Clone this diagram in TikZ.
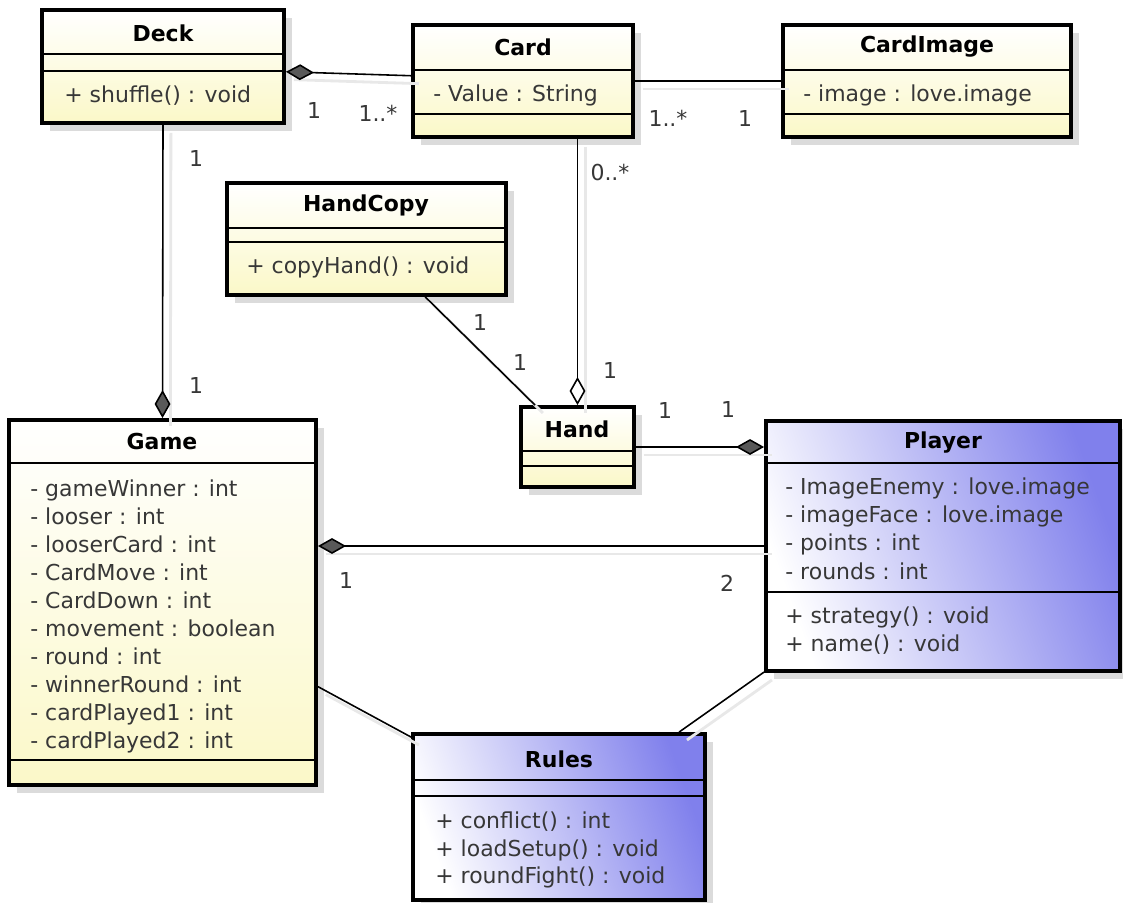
\documentclass[tikz,border=0pt]{standalone}
\usepackage{fontspec}
\setmainfont{DejaVu Sans}
\usetikzlibrary{arrows.meta,shadows,fit}

\definecolor{classyellow}{RGB}{251,248,200}
\definecolor{classblue}{RGB}{128,128,236}
\definecolor{textgray}{RGB}{55,55,55}

\tikzset{
  boxbase/.style={draw, line width=2.2pt, inner sep=0pt,
    drop shadow={shadow xshift=4.5pt, shadow yshift=-4.5pt, fill=black!14, opacity=1}},
  yclass/.style={boxbase, top color=white, bottom color=classyellow},
  bclass/.style={boxbase, left color=white, right color=classblue, shading angle=110},
  compart/.style={line width=1pt},
  title/.style={inner sep=0pt, font=\bfseries\fontsize{12.5}{15}\selectfont},
  member/.style={anchor=west, inner sep=0pt, text=textgray,
    font=\fontsize{12.5}{15}\selectfont, text height=1.5ex, text depth=.25ex},
  mult/.style={inner sep=0pt, text=textgray, font=\fontsize{12.5}{15}\selectfont},
  assoc/.style={line width=0.9pt,
    preaction={draw=black!9, line width=1.6pt, arrows=-,
      transform canvas={xshift=4.5pt, yshift=-4.5pt}}},
  tipfull/.tip={Diamond[length=16pt, width=9pt, fill=black!65]},
  tipopen/.tip={Diamond[length=16pt, width=9pt, fill=white]},
}

\begin{document}
\begin{tikzpicture}[x=0.02cm, y=-0.02cm]
    \useasboundingbox[fill=white] (0,0) rectangle (1123,903);

    % classes
    \node[yclass, fit={(42,10) (284,123)}] (deck) {};
    \node[yclass, fit={(413,25) (633,137)}] (card) {};
    \node[yclass, fit={(783,25) (1071,137)}] (cardimage) {};
    \node[yclass, fit={(227,183) (506,295)}] (handcopy) {};
    \node[yclass, fit={(9,420) (316,785)}] (game) {};
    \node[yclass, fit={(521,407) (634,487)}] (hand) {};
    \node[bclass, fit={(766,421) (1120,671)}] (player) {};
    \node[bclass, fit={(413,734) (705,900)}] (rules) {};

    % compartments
    \draw[compart] (deck.west |- 0,54) -- (deck.east |- 0,54);
    \draw[compart] (deck.west |- 0,71) -- (deck.east |- 0,71);
    \draw[compart] (card.west |- 0,70) -- (card.east |- 0,70);
    \draw[compart] (card.west |- 0,114) -- (card.east |- 0,114);
    \draw[compart] (cardimage.west |- 0,70) -- (cardimage.east |- 0,70);
    \draw[compart] (cardimage.west |- 0,114) -- (cardimage.east |- 0,114);
    \draw[compart] (handcopy.west |- 0,228) -- (handcopy.east |- 0,228);
    \draw[compart] (handcopy.west |- 0,242) -- (handcopy.east |- 0,242);
    \draw[compart] (game.west |- 0,463) -- (game.east |- 0,463);
    \draw[compart] (game.west |- 0,760) -- (game.east |- 0,760);
    \draw[compart] (hand.west |- 0,451) -- (hand.east |- 0,451);
    \draw[compart] (hand.west |- 0,466) -- (hand.east |- 0,466);
    \draw[compart] (player.west |- 0,463) -- (player.east |- 0,463);
    \draw[compart] (player.west |- 0,592) -- (player.east |- 0,592);
    \draw[compart] (rules.west |- 0,780) -- (rules.east |- 0,780);
    \draw[compart] (rules.west |- 0,796) -- (rules.east |- 0,796);

    % names
    \node[title] (deck-t) at (163,33) {Deck};
    \node[title] (card-t) at (523,47) {Card};
    \node[title] (cardimage-t) at (927,47) {CardImage};
    \node[title] (handcopy-t) at (366,206) {HandCopy};
    \node[title] (game-t) at (162,441) {Game};
    \node[title] (hand-t) at (577,429) {Hand};
    \node[title] (player-t) at (943,443) {Player};
    \node[title] (rules-t) at (559,759) {Rules};

    % members
    \node[member] (deck-m) at (64,96) {+ shuffle() : void};
    \node[member] (card-a) at (433,95) {- Value : String};
    \node[member] (cardimage-a) at (803,95) {- image : love.image};
    \node[member] (handcopy-m) at (246,267) {+ copyHand() : void};
    \foreach \t [count=\i] in {- gameWinner : int, - looser : int, - looserCard : int,
        - CardMove : int, - CardDown : int, - movement : boolean, - round : int,
        - winnerRound : int, - cardPlayed1 : int, - cardPlayed2 : int}
      \node[member] (game-a\i) at (30,462+28*\i) {\t};
    \foreach \t [count=\i] in {- ImageEnemy : love.image, - imageFace : love.image,
        - points : int, - rounds : int}
      \node[member] (player-a\i) at (785,460+28.3*\i) {\t};
    \node[member] (player-m1) at (785,617) {+ strategy() : void};
    \node[member] (player-m2) at (785,645) {+ name() : void};
    \foreach \t [count=\i] in {+ conflict() : int, + loadSetup() : void, + roundFight() : void}
      \node[member] (rules-m\i) at (435,795+27.5*\i) {\t};

    % associations
    \draw[assoc, {tipfull}-] ([yshift=-3pt]deck.east) -- ([yshift=3pt]card.west);
    \draw[assoc] (card.east) -- (cardimage.west);
    \draw[assoc, -{tipfull}] (deck.south) -- (game.north);
    \draw[assoc, -{tipopen}] (hand.north |- card.south) -- (hand.north);
    \draw[assoc] (handcopy) -- (hand);
    \draw[assoc, -{tipfull}] (hand.east) -- (hand.east -| player.west);
    \draw[assoc, {tipfull}-] (game.east |- player.west) -- (player.west);
    \draw[assoc] (game) -- (rules);
    \draw[assoc] (player) -- (rules);

    % multiplicities
    \node[mult] (m-deck-card1) at (314,110) {1};
    \node[mult] (m-deck-card2) at (378,113) {1..*};
    \node[mult] (m-card-img1) at (668,118) {1..*};
    \node[mult] (m-card-img2) at (745,118) {1};
    \node[mult] (m-deck-game1) at (196,158) {1};
    \node[mult] (m-deck-game2) at (196,385) {1};
    \node[mult] (m-card-hand1) at (610,173) {0..*};
    \node[mult] (m-card-hand2) at (610,370) {1};
    \node[mult] (m-copy-hand1) at (480,322) {1};
    \node[mult] (m-copy-hand2) at (520,362) {1};
    \node[mult] (m-hand-player1) at (665,410) {1};
    \node[mult] (m-hand-player2) at (728,409) {1};
    \node[mult] (m-game-player1) at (346,580) {1};
    \node[mult] (m-game-player2) at (727,583) {2};
\end{tikzpicture}
\end{document}
